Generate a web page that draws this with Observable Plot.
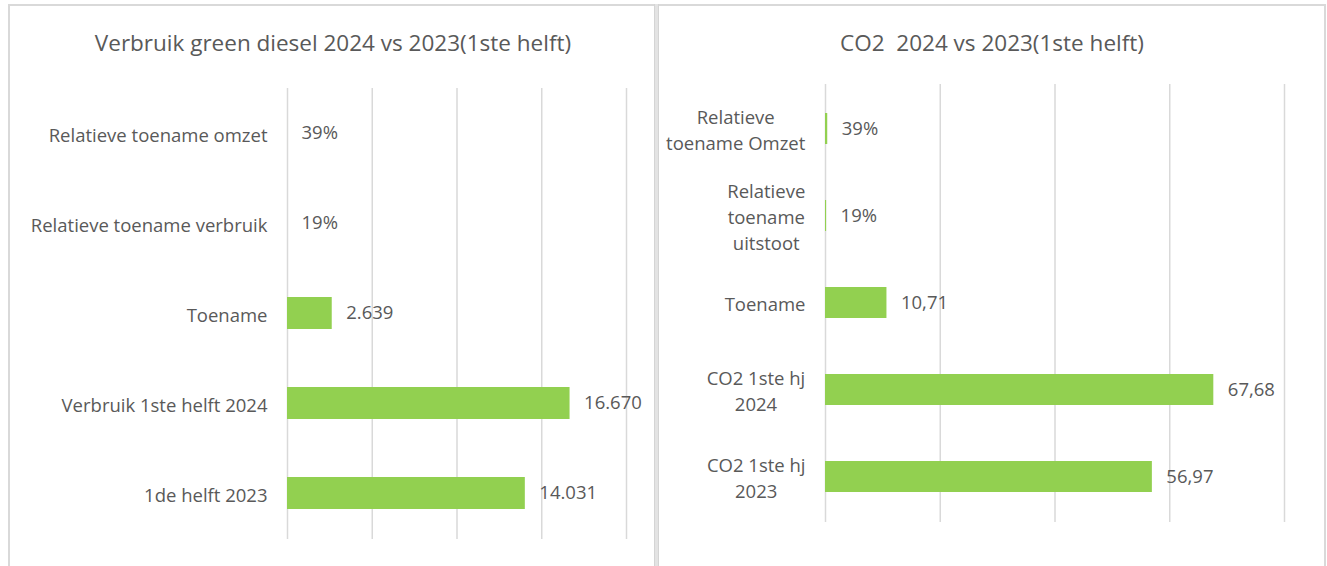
<!DOCTYPE html>
<html>
<head>
<meta charset="utf-8">
<script src="https://cdn.jsdelivr.net/npm/d3@7"></script>
<script src="https://cdn.jsdelivr.net/npm/@observablehq/plot@0.6"></script>
<style>
  html, body { margin: 0; padding: 0; background: #fff; }
  #root { position: relative; width: 1327px; height: 566px; overflow: hidden; font-family: "Open Sans", Lato, sans-serif; }
  .panel { position: absolute; }
  .line { position: absolute; background: #d9d9d9; }
  .title { position: absolute; top: 27px; font-size: 22.5px; line-height: 32px; color: #595959; text-align: center; white-space: pre; }
</style>
</head>
<body>
<div id="root">
  <div class="line" style="left:8px; top:4px; width:2px; height:562px;"></div>
  <div class="line" style="left:8px; top:4px; width:1318px; height:2px;"></div>
  <div class="line" style="left:654px; top:4px; width:5px; height:562px; background:#e3e3e3; border-left:1px solid #d4d4d4; border-right:1px solid #d4d4d4; box-sizing:border-box;"></div>
  <div class="line" style="left:1324px; top:4px; width:2px; height:562px;"></div>
  <div class="title" id="t1" style="left:10px; width:646px;"></div>
  <div class="title" id="t2" style="left:659px; width:666px;"></div>
  <div class="panel" id="p1" style="left:0px; top:0px;"></div>
  <div class="panel" id="p2" style="left:657px; top:0px;"></div>
</div>
<script>
// ---- Data ----
const leftTitle = "Verbruik green diesel 2024 vs 2023(1ste helft)";
const leftCategories = ["Relatieve toename omzet", "Relatieve toename verbruik", "Toename", "Verbruik 1ste helft 2024", "1de helft 2023"];
const leftValues = [0.39, 0.19, 2639, 16670, 14031];
const leftLabels = ["39%", "19%", "2.639", "16.670", "14.031"];
const leftTicks = [0, 5000, 10000, 15000, 20000];

const rightTitle = "CO2  2024 vs 2023(1ste helft)";
const rightCategories = ["Relatieve\ntoename Omzet", "Relatieve\ntoename\nuitstoot", "Toename", "CO2 1ste hj\n2024", "CO2 1ste hj\n2023"];
const rightValues = [0.39, 0.19, 10.71, 67.68, 56.97];
const rightLabels = ["39%", "19%", "10,71", "67,68", "56,97"];
const rightTicks = [0, 20, 40, 60, 80];

const green = "#92D050";
const textColor = "#595959";
const gridColor = "#d9d9d9";
const FONT = "'Open Sans', Lato, sans-serif";
const FS = 18.5;

document.getElementById("t1").textContent = leftTitle;
document.getElementById("t2").textContent = rightTitle;

function makeChart({categories, values, labels, ticks, width, height, mt, mb, ml, mr}) {
  const data = categories.map((c, i) => ({cat: c, value: values[i], label: labels[i]}));
  return Plot.plot({
    width, height,
    marginTop: mt, marginBottom: mb, marginLeft: ml, marginRight: mr,
    style: {fontFamily: FONT, fontSize: FS + "px", color: textColor, background: "transparent", overflow: "visible"},
    x: {domain: [ticks[0], ticks[ticks.length - 1]], axis: null},
    y: {domain: categories, paddingInner: 0.64, paddingOuter: 0.32, label: null},
    marks: [
      Plot.ruleX(ticks, {stroke: gridColor, strokeWidth: 1.5}),
      Plot.barX(data, {x: "value", y: "cat", fill: green}),
      Plot.text(data, {x: "value", y: "cat", text: "label", textAnchor: "start", dx: 14, fill: textColor, fontSize: FS}),
      Plot.axisY({tickSize: 0, tickPadding: 20, fontSize: FS, fill: textColor, lineHeight: 1.41, label: null})
    ]
  });
}

const c1 = makeChart({categories: leftCategories, values: leftValues, labels: leftLabels, ticks: leftTicks,
  width: 656, height: 566, mt: 88, mb: 27, ml: 287, mr: 30});
const c2 = makeChart({categories: rightCategories, values: rightValues, labels: rightLabels, ticks: rightTicks,
  width: 668, height: 566, mt: 84, mb: 44, ml: 168, mr: 41});
document.getElementById("p1").appendChild(c1);
document.getElementById("p2").appendChild(c2);

// Center multi-line category labels within their block (right-aligned block), like the original
for (const svg of [c1, c2]) {
  svg.querySelectorAll("g[aria-label='y-axis tick label'] text").forEach(t => {
    const tspans = t.querySelectorAll("tspan");
    if (tspans.length > 1) {
      const w = t.getBBox().width;
      t.setAttribute("text-anchor", "middle");
      const tr = t.getAttribute("transform") || "";
      t.setAttribute("transform", tr + ` translate(${-w / 2},0)`);
    }
  });
}
</script>
</body>
</html>
